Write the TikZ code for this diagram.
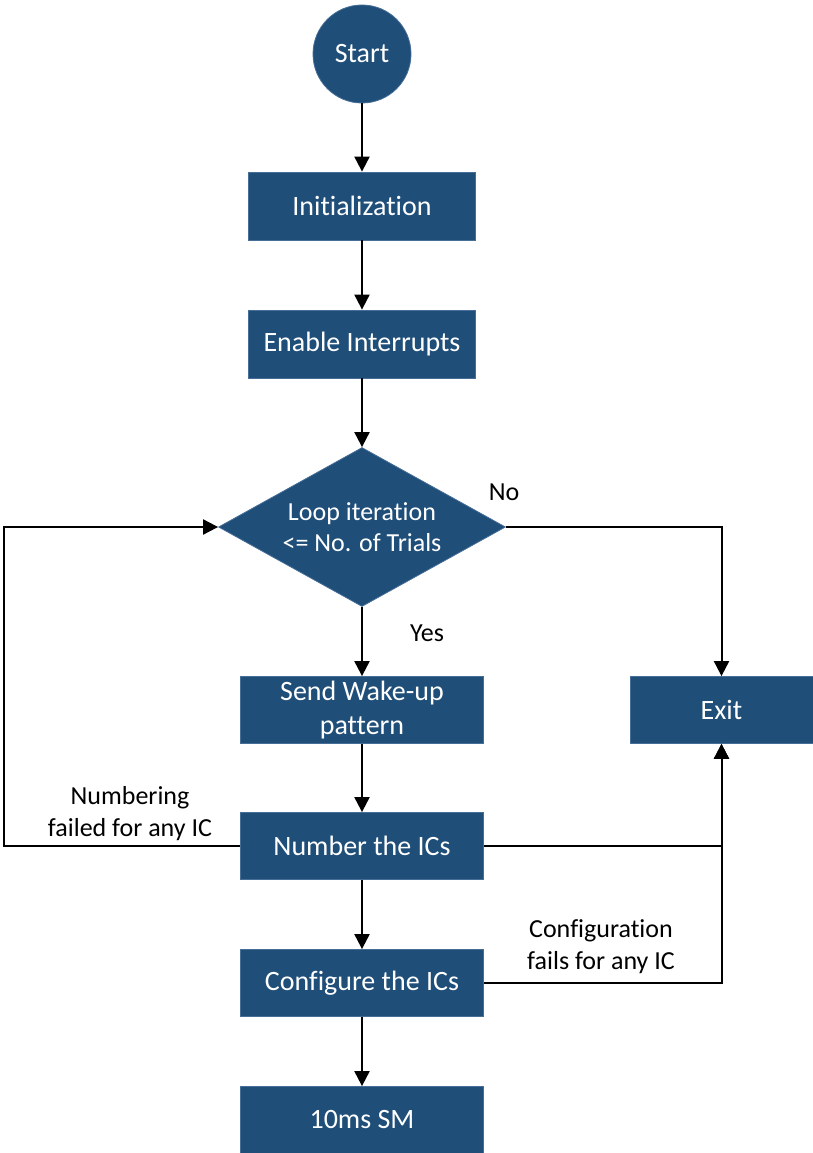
\documentclass[tikz,border=0pt]{standalone}
\usepackage{fontspec}
\setmainfont[Ligatures={NoCommon}]{Carlito}
\usetikzlibrary{shapes.geometric,arrows.meta}
\definecolor{boxblue}{RGB}{31,78,121}
\definecolor{boxedge}{RGB}{70,110,150}
\tikzset{
  procbox/.style={rectangle, fill=boxblue, draw=boxedge, line width=0.8pt, text=white,
    minimum width=243pt, minimum height=67pt, inner sep=0pt, align=center,
    font=\fontsize{28}{34}\selectfont},
  startnode/.style={circle, fill=boxblue, draw=boxedge, line width=0.8pt, text=white,
    minimum size=98pt, inner sep=0pt, font=\fontsize{28}{34}\selectfont},
  decnode/.style={diamond, fill=boxblue, draw=boxedge, line width=0.8pt, text=white,
    minimum width=287pt, minimum height=159pt, inner sep=0pt, aspect=1.8, align=center,
    font=\fontsize{26}{31}\selectfont},
  conn/.style={line width=2pt, -{Triangle[length=15pt,width=15pt]}},
  lbl/.style={align=center, font=\fontsize{26}{32}\selectfont, inner sep=0pt}
}
\begin{document}
\begin{tikzpicture}[x=1pt,y=-1pt]
\useasboundingbox (0,0) rectangle (813,1153);
\node[startnode] (start) at (362,54) {Start};
\node[procbox, minimum width=227pt, minimum height=68pt] (init) at (362,206) {Initialization};
\node[procbox, minimum width=227pt, minimum height=68pt] (enable) at (362,344) {Enable Interrupts};
\node[decnode] (loop) at (362,527) {Loop iteration\\<= No. of Trials};
\node[procbox] (wake) at (362,710) {Send Wake-up\\pattern};
\node[procbox, minimum width=183pt] (exit) at (721.5,710) {Exit};
\node[procbox] (number) at (362,846) {Number the ICs};
\node[procbox] (config) at (362,983) {Configure the ICs};
\node[procbox] (sm) at (362,1120) {10ms SM};

\coordinate (lefttop) at (4,527);
\coordinate (leftbot) at (4,846);

\draw[conn] (start) -- (init);
\draw[conn] (init) -- (enable);
\draw[conn] (enable) -- (loop.north);
\draw[conn] (loop.south) -- (wake);
\draw[conn] (loop.east) -| (exit.north);
\draw[conn] (wake) -- (number);
\draw[conn] (number.west) -- (leftbot) -- (lefttop) -- (loop.west);
\draw[conn] (number.east) -| (exit.south);
\draw[conn] (config.east) -| (exit.south);
\draw[conn] (number) -- (config);
\draw[conn] (config) -- (sm);

\node[lbl] (nolbl) at (504,492) {No};
\node[lbl] (yeslbl) at (427,633) {Yes};
\node[lbl] (numlbl) at (130,814) {Numbering\\failed for any IC};
\node[lbl] (cfglbl) at (601,947) {Configuration\\fails for any IC};
\end{tikzpicture}
\end{document}
